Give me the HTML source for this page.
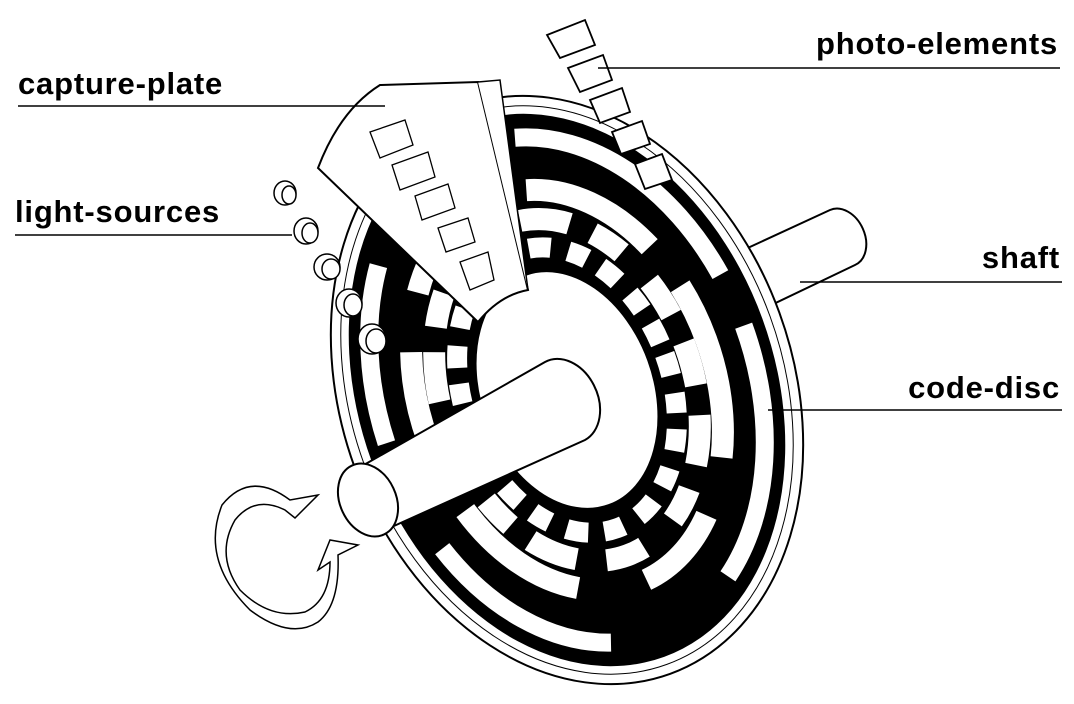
<!DOCTYPE html>
<html><head><meta charset="utf-8"><style>
html,body{margin:0;padding:0;background:#fff;width:1074px;height:704px;overflow:hidden}
svg{display:block}
svg text{font-family:"Liberation Sans",sans-serif;font-weight:bold;font-size:31px;letter-spacing:0.8px;fill:#000}
</style></head><body>
<svg width="1074" height="704" viewBox="0 0 1074 704" xmlns="http://www.w3.org/2000/svg">
<g stroke="#000" stroke-width="2" fill="#fff">
<path d="M700 270 L830 210 A22 30 -25 0 1 855 265 L740 320 Z"/>
</g>
<g transform="translate(567,390) rotate(-20)">
<ellipse rx="226" ry="302" fill="#fff" stroke="#000" stroke-width="2"/>
<ellipse rx="216" ry="292" fill="none" stroke="#000" stroke-width="1"/>
<ellipse rx="208" ry="284" fill="#000"/>
<ellipse rx="188" ry="260" fill="none" stroke="#fff" stroke-width="18" stroke-dasharray="260 140 200 120 180 200"/>
<ellipse rx="170" ry="236" fill="#000"/>
<ellipse rx="148" ry="206" fill="none" stroke="#fff" stroke-width="22" stroke-dasharray="120 60 90 70 140 50"/>
<ellipse rx="126" ry="176" fill="none" stroke="#fff" stroke-width="22" stroke-dasharray="40 30 50 25 35 40"/>
<ellipse rx="104" ry="147" fill="none" stroke="#fff" stroke-width="20" stroke-dasharray="22 18 20 16"/>
<ellipse rx="86" ry="122" fill="#fff" stroke="#000" stroke-width="1"/>
</g>
<g stroke="#000" fill="#fff">
<path d="M318 168 Q340 110 380 85 L478 82 L528 290 Q500 295 478 322 Z" stroke-width="2"/>
<path d="M478 82 L500 80 L528 290" stroke-width="1.5" fill="#fff"/>
<g stroke-width="1.3" fill="none">
<path d="M370 132 L405 120 L413 145 L380 158 Z"/>
<path d="M392 165 L428 152 L435 177 L400 190 Z"/>
<path d="M415 196 L448 184 L455 208 L422 220 Z"/>
<path d="M438 228 L468 218 L475 242 L446 252 Z"/>
<path d="M460 262 L488 252 L494 280 L470 290 Z"/>
</g>
</g>
<g stroke="#000" stroke-width="1.5" fill="#fff">
<ellipse cx="285" cy="193" rx="11" ry="12"/><ellipse cx="289" cy="195" rx="7" ry="9"/>
<ellipse cx="306" cy="231" rx="12" ry="13"/><ellipse cx="310" cy="233" rx="8" ry="10"/>
<ellipse cx="327" cy="267" rx="13" ry="13"/><ellipse cx="331" cy="269" rx="9" ry="10"/>
<ellipse cx="349" cy="303" rx="13" ry="14"/><ellipse cx="353" cy="305" rx="9" ry="11"/>
<ellipse cx="372" cy="339" rx="14" ry="15"/><ellipse cx="376" cy="341" rx="10" ry="12"/>
</g>
<g stroke="#000" stroke-width="1.8" fill="#fff">
<path d="M547 35 L585 20 L595 45 L560 58 Z"/>
<path d="M568 68 L603 55 L612 80 L580 92 Z"/>
<path d="M590 100 L622 88 L630 112 L600 123 Z"/>
<path d="M612 132 L642 121 L650 144 L621 154 Z"/>
<path d="M635 164 L662 154 L672 180 L645 189 Z"/>
</g>
<g stroke="#000" stroke-width="2" fill="#fff">
<path d="M355 470 L545 362 A30 40 -25 0 1 585 440 L385 530 Z"/>
<ellipse cx="368" cy="500" rx="28" ry="38" transform="rotate(-25 368 500)"/>
</g>
<g stroke="#000" stroke-width="1.5" fill="none">
<path d="M318 495 L290 500 Q250 470 222 505 Q200 560 250 610 Q290 640 318 622 Q340 605 338 555 L358 545 L330 540 L318 570 L330 562 Q330 600 305 612 Q270 620 240 590 Q215 555 235 520 Q255 495 285 510 L295 518 Z"/>
</g>
<text x="18" y="94">capture-plate</text>
<line x1="18" y1="106" x2="385" y2="106" stroke="#000" stroke-width="1.5"/>
<text x="15" y="222">light-sources</text>
<line x1="15" y1="235" x2="292" y2="235" stroke="#000" stroke-width="1.5"/>
<text x="1058" y="54" text-anchor="end">photo-elements</text>
<line x1="598" y1="68" x2="1060" y2="68" stroke="#000" stroke-width="1.5"/>
<text x="1060" y="268" text-anchor="end">shaft</text>
<line x1="800" y1="282" x2="1062" y2="282" stroke="#000" stroke-width="1.5"/>
<text x="1060" y="398" text-anchor="end">code-disc</text>
<line x1="768" y1="410" x2="1062" y2="410" stroke="#000" stroke-width="1.5"/>
</svg>
</body></html>
